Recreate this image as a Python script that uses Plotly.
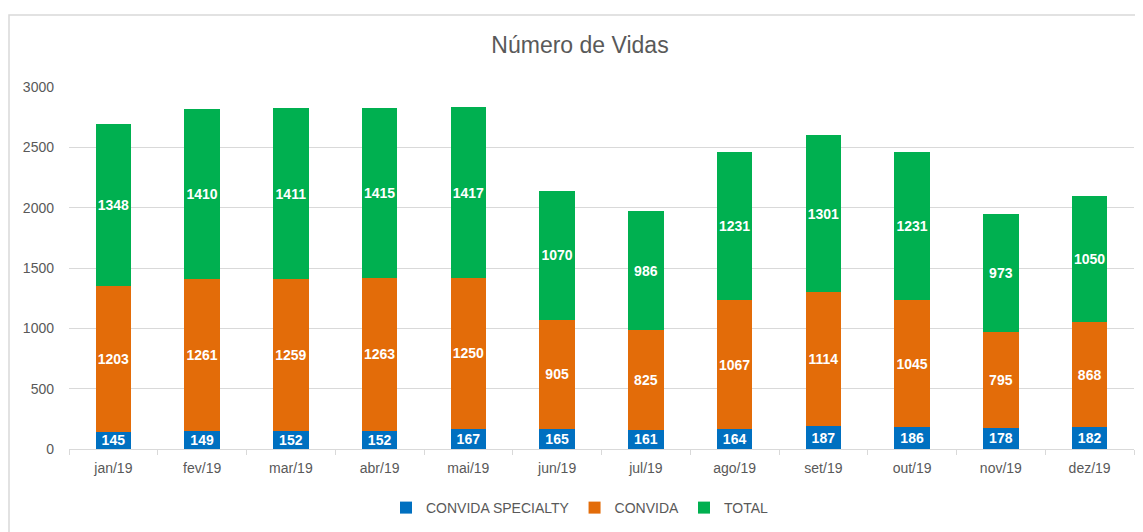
import plotly.graph_objects as go

months = ["jan/19", "fev/19", "mar/19", "abr/19", "mai/19", "jun/19",
          "jul/19", "ago/19", "set/19", "out/19", "nov/19", "dez/19"]
specialty = [145, 149, 152, 152, 167, 165, 161, 164, 187, 186, 178, 182]
convida = [1203, 1261, 1259, 1263, 1250, 905, 825, 1067, 1114, 1045, 795, 868]
total = [1348, 1410, 1411, 1415, 1417, 1070, 986, 1231, 1301, 1231, 973, 1050]
y_ticks = [0, 500, 1000, 1500, 2000, 2500, 3000]

FONT = "Liberation Sans Narrow, Arial Narrow, Liberation Sans, Arial, sans-serif"
GRAY = "#595959"

# page is rendered with an 8px body margin; figure coords = page coords - 8
W, H = 1135, 524
L, R, T, B = 61, 9, 79, 83
PW, PH = W - L - R, H - T - B

fig = go.Figure()
for name, vals, color in [("CONVIDA SPECIALTY", specialty, "#0070C0"),
                          ("CONVIDA", convida, "#E36C09"),
                          ("TOTAL", total, "#00B050")]:
    fig.add_trace(go.Bar(
        x=months, y=vals, name=name, marker=dict(color=color, line=dict(width=0)),
        text=vals, texttemplate="<b>%{text}</b>", textposition="inside",
        insidetextanchor="middle", constraintext="none", textangle=0,
        textfont=dict(family=FONT, size=14, color="white"),
    ))

fig.update_layout(
    barmode="stack", bargap=0.6,
    width=W, height=H, autosize=False,
    margin=dict(l=L, r=R, t=T, b=B, autoexpand=False),
    paper_bgcolor="white", plot_bgcolor="white",
    font=dict(family=FONT, color=GRAY, size=14),
    title=dict(text="Número de Vidas", x=572 / W, xref="container", xanchor="center",
               y=1 - 37 / H, yref="container", yanchor="middle",
               font=dict(size=23, color=GRAY, family=FONT)),
    legend=dict(orientation="h", x=(572 - L) / PW, xanchor="center",
                y=-(500 - 441) / PH, yanchor="middle", font=dict(size=14, color=GRAY),
                traceorder="normal"),
    xaxis=dict(showgrid=False, showline=True, linecolor="#d9d9d9", linewidth=1,
               ticks="outside", tickson="boundaries", ticklen=5, tickcolor="#d9d9d9",
               tickangle=0, ticklabelstandoff=6, tickfont=dict(size=14, color=GRAY)),
    yaxis=dict(range=[0, 3000], tickvals=y_ticks, showgrid=True, gridcolor="#d9d9d9",
               zeroline=False, showline=False, ticklabelstandoff=14,
               tickfont=dict(size=14, color=GRAY)),
    shapes=[dict(type="rect", xref="paper", yref="paper",
                 x0=(1 - L) / PW, x1=1.05, y0=-0.4, y1=1 + (T - 7) / PH,
                 line=dict(color="#d9d9d9", width=1.5), layer="below")],
)

fig.write_html("out.html")
